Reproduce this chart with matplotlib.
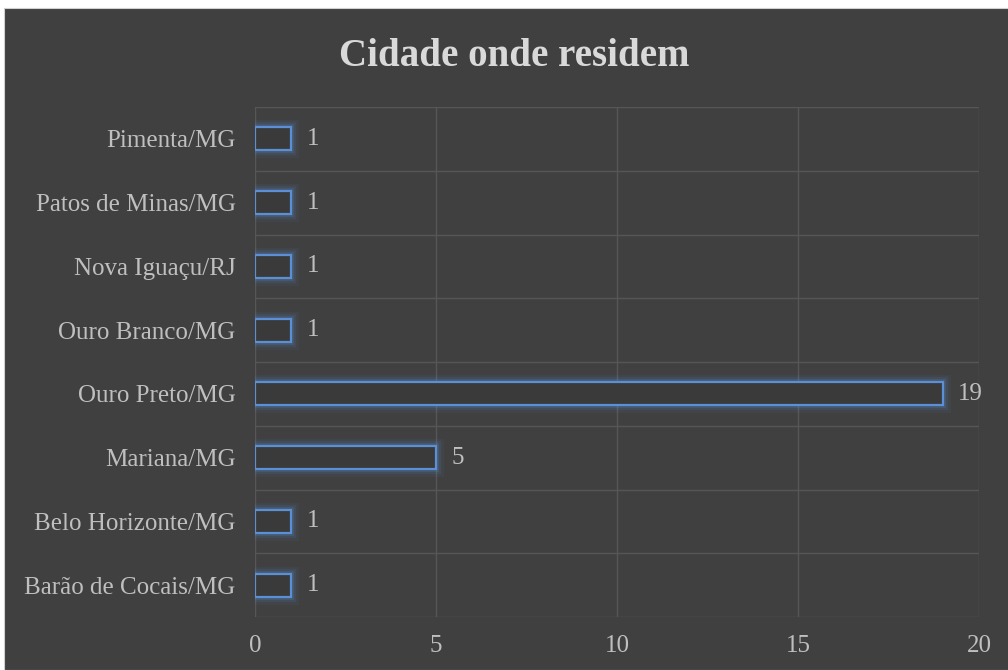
import matplotlib.pyplot as plt
import matplotlib.patheffects as pe
from matplotlib.patches import Rectangle
from matplotlib.ticker import MultipleLocator

cidades = ['Barão de Cocais/MG', 'Belo Horizonte/MG', 'Mariana/MG', 'Ouro Preto/MG',
           'Ouro Branco/MG', 'Nova Iguaçu/RJ', 'Patos de Minas/MG', 'Pimenta/MG']
contagem = [1, 1, 5, 19, 1, 1, 1, 1]
xticks = [0, 5, 10, 15, 20]

bg = '#404040'
txt = '#bfbfbf'
titulo_cor = '#d9d9d9'
grid = '#565656'
azul = '#5b8fd6'
fonte = 'Liberation Serif'

fig = plt.figure(figsize=(10.08, 6.70), dpi=100, facecolor='white')
fig.patches.append(Rectangle((4 / 1008, 0), 1, 1 - 8 / 670, transform=fig.transFigure,
                             facecolor=bg, edgecolor='#d0d0d0', lw=0.8, zorder=0))

ax = fig.add_axes([255 / 1008, 1 - 617 / 670, 724 / 1008, 510 / 670])
ax.set_zorder(2)
ax.set_facecolor('none')

y = list(range(len(cidades)))
bars = ax.barh(y, contagem, height=0.36, color='#3a3a3a', edgecolor=azul, lw=1.6, zorder=3)
for b in bars:
    # brilho azul em volta da barra
    b.set_path_effects([
        pe.Stroke(linewidth=11, foreground=azul, alpha=0.07),
        pe.Stroke(linewidth=7.5, foreground=azul, alpha=0.1),
        pe.Stroke(linewidth=4.5, foreground=azul, alpha=0.18),
        pe.Normal(),
    ])

for yi, v in zip(y, contagem):
    ax.annotate(str(v), (v, yi), xytext=(11, 0), textcoords='offset points',
                va='center', ha='left', color=txt, fontsize=18, family=fonte)

ax.set_xlim(0, 20)
ax.set_ylim(-0.5, len(cidades) - 0.5)
ax.set_xticks(xticks)
ax.set_yticks(y)
ax.set_yticklabels(cidades)
ax.yaxis.set_minor_locator(MultipleLocator(1, offset=0.5))
ax.grid(axis='x', color=grid, lw=1, zorder=1)
ax.grid(axis='y', which='minor', color=grid, lw=1, zorder=1)
ax.set_axisbelow(True)
ax.tick_params(which='both', length=0)
ax.tick_params(axis='x', pad=13)
ax.tick_params(axis='y', pad=14)
for lab in ax.get_xticklabels() + ax.get_yticklabels():
    lab.set_color(txt)
    lab.set_fontsize(18)
    lab.set_family(fonte)
for s in ax.spines.values():
    s.set_visible(False)

fig.text(514 / 1008, 1 - 57 / 670, 'Cidade onde residem', ha='center', va='center',
         color=titulo_cor, fontsize=28, fontweight='bold', family=fonte, zorder=3)

fig.savefig('out.png', dpi=100, facecolor=fig.get_facecolor())
